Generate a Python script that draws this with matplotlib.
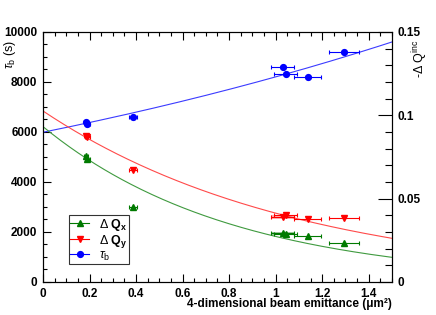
import numpy as np
import matplotlib
matplotlib.use("Agg")
import matplotlib.pyplot as plt
from matplotlib.lines import Line2D
from matplotlib.patches import Rectangle
from matplotlib.ticker import MultipleLocator, AutoMinorLocator

plt.rcParams['font.family'] = ['Liberation Sans', 'DejaVu Sans']
plt.rcParams['mathtext.fontset'] = 'custom'
plt.rcParams['mathtext.rm'] = 'Liberation Sans'
plt.rcParams['mathtext.it'] = 'Liberation Sans:italic'
plt.rcParams['mathtext.bf'] = 'Liberation Sans:bold'

# emittance (um^2) and horizontal error for each measurement
emit = [0.185, 0.19, 0.388, 1.030, 1.043, 1.137, 1.295]
emit_err = [0.01, 0.01, 0.018, 0.05, 0.05, 0.057, 0.065]

# lifetime tau_b (s)
tau_b = [6380, 6330, 6600, 8587, 8307, 8187, 9187]
# incoherent tune shifts (-dQ)
dqx = [0.0755, 0.0735, 0.0452, 0.0296, 0.0286, 0.0278, 0.0232]
dqy = [0.0875, 0.0869, 0.0670, 0.0392, 0.0402, 0.0378, 0.0382]

# systematic boxes around the 1.03 points: (x0, x1, y0, y1)
box_qx = (0.979, 1.083, 0.0280, 0.0302)
box_qy = (0.979, 1.083, 0.0378, 0.0402)

# exponential fit parameters: A * exp(k * emittance)
fit_tau = (5990, 0.3145)
fit_qx = (0.0932, -1.227)
fit_qy = (0.1026, -0.910)

c_blue, c_red, c_green = '#0000ff', '#ff0000', '#007a00'

fig = plt.figure(figsize=(4.36, 3.15), dpi=100)
ax = fig.add_axes([0.0986, 0.1048, 0.8005, 0.7937])
ax2 = ax.twinx()

xs = np.linspace(0, 1.5, 200)
ax.plot(xs, fit_tau[0] * np.exp(fit_tau[1] * xs), color='#3b3bff', lw=0.8)
ax2.plot(xs, fit_qy[0] * np.exp(fit_qy[1] * xs), color='#ff4a4a', lw=0.8)
ax2.plot(xs, fit_qx[0] * np.exp(fit_qx[1] * xs), color='#3f9a3f', lw=0.8)

for b, c in [(box_qx, '#8fc08f'), (box_qy, '#ffa0a0')]:
    ax2.add_patch(Rectangle((b[0], b[2]), b[1] - b[0], b[3] - b[2],
                            facecolor=c, edgecolor='none', alpha=0.8, zorder=1))

ekw = dict(xerr=emit_err, ls='none', ms=4.2, elinewidth=0.8, capsize=1.5, capthick=0.8)
ax.errorbar(emit, tau_b, color=c_blue, marker='o', **ekw)
ax2.errorbar(emit, dqy, color=c_red, marker='v', **ekw)
ax2.errorbar(emit, dqx, color=c_green, marker='^', **ekw)

ax.set_xlim(0, 1.5)
ax.set_ylim(0, 10000)
ax2.set_ylim(0, 0.15)

ax.xaxis.set_major_locator(MultipleLocator(0.2))
ax.xaxis.set_minor_locator(AutoMinorLocator(4))
ax.yaxis.set_major_locator(MultipleLocator(2000))
ax.yaxis.set_minor_locator(AutoMinorLocator(4))
ax2.yaxis.set_major_locator(MultipleLocator(0.05))
ax2.yaxis.set_minor_locator(AutoMinorLocator(5))

ax.tick_params(axis='x', which='both', direction='in', top=True, pad=4)
ax.tick_params(axis='y', which='both', direction='in', right=False, pad=4)
ax.tick_params(which='major', length=6, width=0.8)
ax.tick_params(which='minor', length=3, width=0.8)
ax2.tick_params(axis='y', which='major', direction='in', length=10, width=0.8, pad=4)
ax2.tick_params(axis='y', which='minor', direction='in', length=5, width=0.8)

ax.set_xticks([0, 0.2, 0.4, 0.6, 0.8, 1.0, 1.2, 1.4])
ax.set_xticklabels(['0', '0.2', '0.4', '0.6', '0.8', '1', '1.2', '1.4'])
ax2.set_yticks([0, 0.05, 0.1, 0.15])
ax2.set_yticklabels(['0', '0.05', '0.1', '0.15'])
for lab in ax.get_xticklabels() + ax.get_yticklabels() + ax2.get_yticklabels():
    lab.set_fontweight('bold')
    lab.set_fontsize(8.5)

ax.set_xlabel('4-dimensional beam emittance (\u03bcm\u00b2)',
              fontsize=8.5, fontweight='bold', loc='right')
ax.xaxis.set_label_coords(1.0, -0.066)
ax.set_ylabel(r'$\tau_{\rm b}$ (s)', fontsize=9, loc='top')
ax.yaxis.set_label_coords(-0.072, 0.97)
ax2.set_ylabel(r'-$\Delta$ Q$^{\rm inc}$', fontsize=9, loc='top')
ax2.yaxis.set_label_coords(1.052, 0.97)

handles = [
    Line2D([], [], color=c_green, marker='^', ms=4.2, lw=0.8),
    Line2D([], [], color=c_red, marker='v', ms=4.2, lw=0.8),
    Line2D([], [], color=c_blue, marker='o', ms=4.2, lw=0.8),
]
labels = [r'$\Delta$ $\mathbf{Q_x}$', r'$\Delta$ $\mathbf{Q_y}$', r'$\tau_{\rm b}$']
leg = ax2.legend(handles, labels, loc='lower left', bbox_to_anchor=(0.075, 0.072),
                 fontsize=9, frameon=True, fancybox=False, handlelength=1.5,
                 handletextpad=0.8, borderpad=0.1, labelspacing=0.0, borderaxespad=0)
leg.get_frame().set_edgecolor('black')
leg.get_frame().set_linewidth(0.8)

fig.savefig('out.png', dpi=100)
